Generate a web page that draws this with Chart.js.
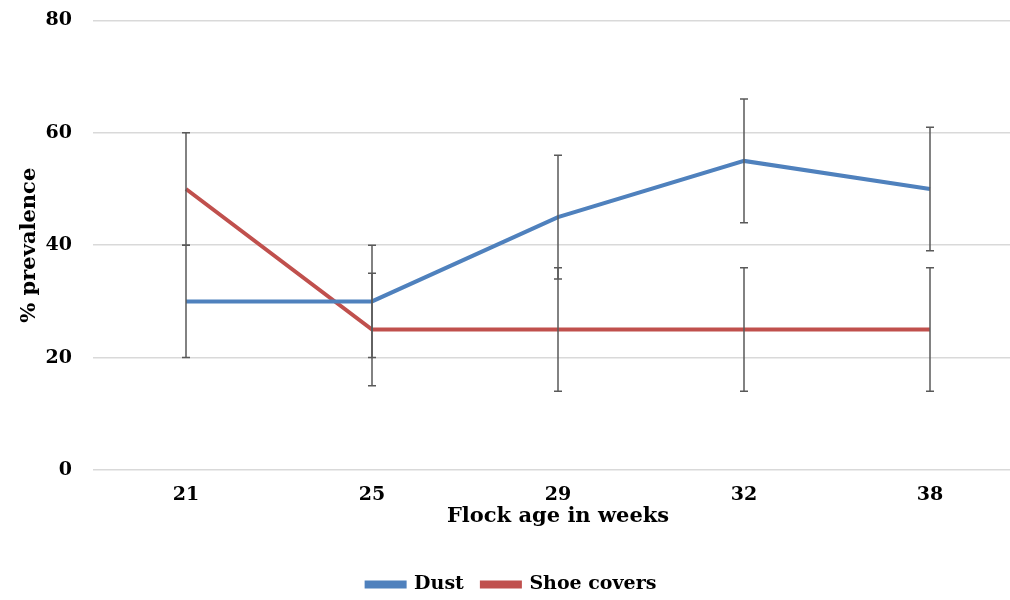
<!DOCTYPE html>
<html>
<head>
<meta charset="utf-8">
<script src="https://cdn.jsdelivr.net/npm/chart.js@4.4.0/dist/chart.umd.min.js"></script>
<style>
  html, body { margin: 0; padding: 0; background: #fff; overflow: hidden; }
  body { width: 1010px; height: 600px; }
  canvas { display: block; margin-top: -12px; }
</style>
</head>
<body>
<canvas id="chart" width="1023" height="616"></canvas>
<script>
'use strict';

// flock age (weeks) on the x axis
const weeks = ['21', '25', '29', '32', '38'];
// % prevalence per series
const dust = [30, 30, 45, 55, 50];
const shoeCovers = [50, 25, 25, 25, 25];
// +/- error for each point
const dustErr = [10, 10, 11, 11, 11];
const shoeErr = [10, 10, 11, 11, 11];
const yTicks = [0, 20, 40, 60, 80];

const FONT = "'DejaVu Serif', serif";
const BLUE = '#4f81bd';
const RED = '#c0504d';

// draws the whiskers through the y scale
const errorBars = {
  id: 'errorBars',
  afterDatasetsDraw(chart) {
    const { ctx, scales } = chart;
    const x = scales.x;
    const y = scales.y;
    ctx.save();
    ctx.strokeStyle = '#595959';
    ctx.lineWidth = 1.5;
    chart.data.datasets.forEach((ds) => {
      ds.data.forEach((v, i) => {
        const e = ds.errors[i];
        const px = x.getPixelForValue(i);
        const top = y.getPixelForValue(v + e);
        const bot = y.getPixelForValue(v - e);
        ctx.beginPath();
        ctx.moveTo(px, top);
        ctx.lineTo(px, bot);
        ctx.moveTo(px - 4, top);
        ctx.lineTo(px + 4, top);
        ctx.moveTo(px - 4, bot);
        ctx.lineTo(px + 4, bot);
        ctx.stroke();
      });
    });
    ctx.restore();
  },
};

new Chart(document.getElementById('chart').getContext('2d'), {
  type: 'line',
  data: {
    labels: weeks,
    datasets: [
      {
        label: 'Dust',
        data: dust,
        errors: dustErr,
        borderColor: BLUE,
        backgroundColor: BLUE,
        borderWidth: 4,
        pointRadius: 0,
        tension: 0,
      },
      {
        label: 'Shoe covers',
        data: shoeCovers,
        errors: shoeErr,
        borderColor: RED,
        backgroundColor: RED,
        borderWidth: 4,
        pointRadius: 0,
        tension: 0,
      },
    ],
  },
  options: {
    responsive: false,
    animation: false,
    layout: { padding: { top: 8, left: 0, right: 0, bottom: 0 } },
    plugins: {
      tooltip: { enabled: false },
      legend: {
        position: 'bottom',
        labels: {
          boxWidth: 38,
          boxHeight: 4,
          padding: 18,
          color: '#000',
          font: { family: FONT, size: 19, weight: 'bold' },
        },
      },
    },
    scales: {
      x: {
        offset: true,
        grid: { display: false },
        border: { display: false },
        ticks: {
          padding: 6,
          color: '#000',
          font: { family: FONT, size: 19, weight: 'bold' },
        },
        title: {
          display: true,
          text: 'Flock age in weeks',
          color: '#000',
          font: { family: FONT, size: 21, weight: 'bold' },
          padding: { top: 0, bottom: 28 },
        },
        afterFit(scale) { scale.height = 87; },
      },
      y: {
        min: 0,
        max: 80,
        afterBuildTicks(scale) { scale.ticks = yTicks.map((v) => ({ value: v })); },
        grid: { color: '#d9d9d9', lineWidth: 1.5, drawTicks: false },
        border: { display: false },
        ticks: {
          padding: 21,
          color: '#000',
          font: { family: FONT, size: 19, weight: 'bold' },
        },
        title: {
          display: true,
          text: '% prevalence',
          color: '#000',
          font: { family: FONT, size: 21, weight: 'bold' },
          padding: { top: 17, bottom: 0 },
        },
        afterFit(scale) { scale.width = 93; },
      },
    },
  },
  plugins: [errorBars],
});
</script>
</body>
</html>
